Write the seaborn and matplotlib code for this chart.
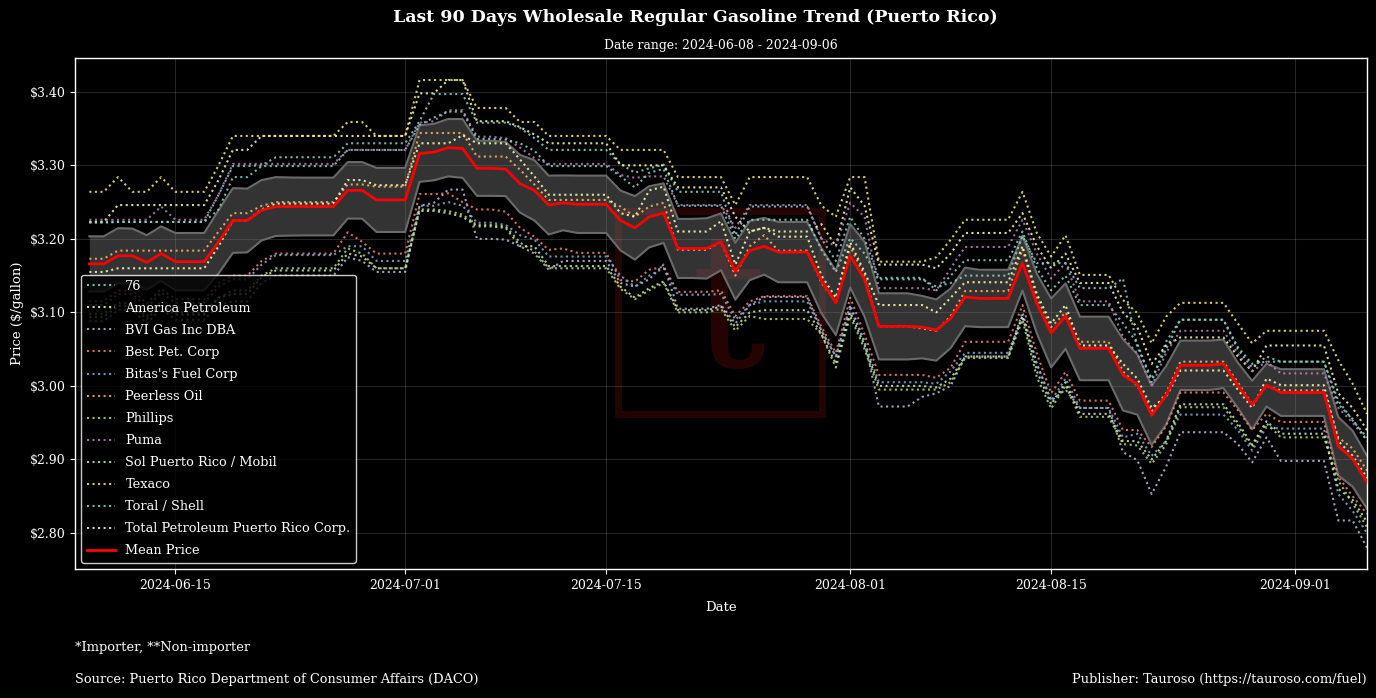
import numpy as np
import pandas as pd
import matplotlib
matplotlib.use("Agg")
import matplotlib.pyplot as plt
import matplotlib.dates as mdates
from matplotlib.ticker import FuncFormatter, MultipleLocator
from matplotlib.patches import Rectangle
import seaborn as sns

plt.style.use("dark_background")
plt.rcParams["font.family"] = ["DejaVu Serif"]

# ---------------- data ----------------
start_date = "2024-06-09"
end_date = "2024-09-06"
dates = pd.date_range(start_date, end_date, freq="D")

companies = [
    "76", "America Petroleum", "BVI Gas Inc DBA", "Best Pet. Corp",
    "Bitas's Fuel Corp", "Peerless Oil", "Phillips", "Puma",
    "Sol Puerto Rico / Mobil", "Texaco", "Toral / Shell",
    "Total Petroleum Puerto Rico Corp.",
]
colors = ["#8dd3c7", "#feffb3", "#bfbbd9", "#fa8174", "#81b1d2", "#fdb462",
          "#b3de69", "#bc82bd", "#ccebc4", "#ffed6f", "#8dd3c7", "#feffb3"]

p_76 = [
    3.223, 3.223, 3.223, 3.223, 3.223, 3.223, 3.223, 3.223, 3.223, 3.260,
    3.299, 3.299, 3.300, 3.311, 3.311, 3.311, 3.311, 3.311, 3.330, 3.330,
    3.330, 3.330, 3.330, 3.360, 3.397, 3.397, 3.397, 3.358, 3.358, 3.358,
    3.351, 3.337, 3.321, 3.321, 3.321, 3.321, 3.321, 3.302, 3.290, 3.296,
    3.301, 3.264, 3.264, 3.264, 3.264, 3.205, 3.244, 3.244, 3.244, 3.244,
    3.244, 3.200, 3.170, 3.230, 3.200, 3.147, 3.147, 3.147, 3.147, 3.130,
    3.150, 3.171, 3.171, 3.171, 3.171, 3.210, 3.160, 3.130, 3.150, 3.110,
    3.110, 3.110, 3.085, 3.058, 3.005, 3.060, 3.090, 3.090, 3.090, 3.090,
    3.053, 3.030, 3.033, 3.033, 3.033, 3.033, 3.033, 2.980, 2.953, 2.930,
]
p_america = [
    3.223, 3.223, 3.246, 3.246, 3.246, 3.246, 3.246, 3.246, 3.246, 3.280,
    3.321, 3.321, 3.340, 3.340, 3.340, 3.340, 3.340, 3.340, 3.340, 3.340,
    3.340, 3.340, 3.340, 3.398, 3.398, 3.416, 3.416, 3.360, 3.360, 3.360,
    3.352, 3.342, 3.330, 3.330, 3.330, 3.330, 3.330, 3.300, 3.300, 3.300,
    3.300, 3.270, 3.270, 3.270, 3.270, 3.230, 3.210, 3.215, 3.210, 3.210,
    3.210, 3.220, 3.190, 3.270, 3.245, 3.165, 3.165, 3.165, 3.165, 3.160,
    3.180, 3.208, 3.208, 3.208, 3.208, 3.235, 3.190, 3.160, 3.180, 3.140,
    3.140, 3.140, 3.100, 3.080, 3.030, 3.055, 3.066, 3.066, 3.066, 3.066,
    3.040, 3.020, 3.055, 3.055, 3.055, 3.055, 3.055, 2.990, 2.970, 2.940,
]
p_bvi = [
    3.088, 3.088, 3.103, 3.103, 3.085, 3.105, 3.090, 3.090, 3.090, 3.110,
    3.115, 3.115, 3.140, 3.150, 3.150, 3.150, 3.150, 3.150, 3.175, 3.170,
    3.155, 3.155, 3.155, 3.245, 3.249, 3.267, 3.267, 3.200, 3.200, 3.199,
    3.190, 3.180, 3.158, 3.170, 3.170, 3.170, 3.170, 3.140, 3.135, 3.145,
    3.165, 3.105, 3.105, 3.105, 3.110, 3.085, 3.110, 3.121, 3.121, 3.121,
    3.121, 3.075, 3.040, 3.110, 3.060, 2.972, 2.972, 2.972, 2.985, 2.990,
    3.000, 3.040, 3.040, 3.040, 3.040, 3.100, 3.030, 2.980, 2.995, 2.970,
    2.970, 2.970, 2.910, 2.899, 2.853, 2.890, 2.937, 2.937, 2.937, 2.937,
    2.921, 2.896, 2.930, 2.898, 2.898, 2.898, 2.898, 2.817, 2.817, 2.780,
]
p_best = [
    3.115, 3.115, 3.130, 3.130, 3.112, 3.132, 3.118, 3.118, 3.118, 3.140,
    3.150, 3.150, 3.170, 3.180, 3.180, 3.180, 3.180, 3.180, 3.209, 3.196,
    3.180, 3.180, 3.180, 3.261, 3.261, 3.262, 3.250, 3.240, 3.240, 3.237,
    3.215, 3.203, 3.185, 3.187, 3.181, 3.181, 3.181, 3.144, 3.142, 3.158,
    3.162, 3.128, 3.128, 3.128, 3.130, 3.095, 3.115, 3.122, 3.122, 3.122,
    3.122, 3.080, 3.045, 3.120, 3.070, 3.015, 3.015, 3.015, 3.015, 3.011,
    3.025, 3.060, 3.060, 3.060, 3.060, 3.110, 3.044, 2.990, 3.019, 2.980,
    2.980, 2.980, 2.940, 2.940, 2.917, 2.945, 2.991, 2.991, 2.991, 2.991,
    2.967, 2.940, 2.962, 2.951, 2.951, 2.951, 2.951, 2.876, 2.850, 2.826,
]
p_bitas = [
    3.110, 3.110, 3.125, 3.125, 3.107, 3.127, 3.113, 3.113, 3.113, 3.135,
    3.145, 3.145, 3.165, 3.178, 3.178, 3.178, 3.178, 3.178, 3.190, 3.190,
    3.170, 3.170, 3.170, 3.245, 3.245, 3.250, 3.245, 3.222, 3.222, 3.219,
    3.205, 3.199, 3.176, 3.176, 3.176, 3.176, 3.176, 3.150, 3.135, 3.150,
    3.160, 3.124, 3.124, 3.124, 3.125, 3.090, 3.110, 3.115, 3.115, 3.115,
    3.115, 3.075, 3.040, 3.105, 3.060, 3.005, 3.005, 3.005, 3.005, 3.003,
    3.020, 3.045, 3.045, 3.045, 3.045, 3.095, 3.030, 2.980, 3.010, 2.970,
    2.970, 2.970, 2.930, 2.935, 2.905, 2.925, 2.961, 2.961, 2.961, 2.961,
    2.940, 2.912, 2.944, 2.942, 2.942, 2.942, 2.942, 2.853, 2.830, 2.800,
]
p_peerless = [
    3.173, 3.173, 3.184, 3.184, 3.184, 3.184, 3.184, 3.184, 3.184, 3.210,
    3.235, 3.235, 3.245, 3.250, 3.250, 3.250, 3.250, 3.250, 3.274, 3.274,
    3.271, 3.271, 3.271, 3.344, 3.344, 3.344, 3.344, 3.312, 3.312, 3.312,
    3.294, 3.274, 3.253, 3.253, 3.253, 3.253, 3.253, 3.244, 3.230, 3.244,
    3.249, 3.185, 3.185, 3.185, 3.196, 3.150, 3.190, 3.205, 3.184, 3.184,
    3.184, 3.140, 3.115, 3.190, 3.150, 3.081, 3.081, 3.081, 3.078, 3.075,
    3.095, 3.129, 3.129, 3.129, 3.129, 3.186, 3.120, 3.080, 3.100, 3.060,
    3.060, 3.060, 3.020, 3.000, 2.965, 2.990, 3.033, 3.033, 3.033, 3.033,
    3.005, 2.975, 3.000, 2.994, 2.994, 2.994, 2.994, 2.930, 2.915, 2.885,
]
p_phillips = [
    3.098, 3.098, 3.113, 3.113, 3.095, 3.115, 3.100, 3.100, 3.100, 3.120,
    3.130, 3.130, 3.150, 3.160, 3.160, 3.160, 3.160, 3.160, 3.187, 3.180,
    3.160, 3.160, 3.160, 3.240, 3.240, 3.238, 3.233, 3.219, 3.219, 3.217,
    3.195, 3.183, 3.160, 3.160, 3.160, 3.160, 3.160, 3.132, 3.118, 3.130,
    3.140, 3.100, 3.100, 3.100, 3.105, 3.075, 3.095, 3.091, 3.091, 3.091,
    3.091, 3.070, 3.025, 3.095, 3.050, 2.995, 2.995, 2.995, 2.995, 2.995,
    3.005, 3.038, 3.038, 3.038, 3.038, 3.090, 3.012, 2.969, 3.001, 2.958,
    2.958, 2.958, 2.921, 2.919, 2.894, 2.920, 2.971, 2.971, 2.971, 2.971,
    2.946, 2.917, 2.949, 2.930, 2.930, 2.930, 2.930, 2.871, 2.840, 2.808,
]
p_puma = [
    3.226, 3.226, 3.226, 3.226, 3.226, 3.244, 3.226, 3.226, 3.226, 3.260,
    3.302, 3.302, 3.302, 3.302, 3.302, 3.302, 3.302, 3.302, 3.321, 3.321,
    3.321, 3.321, 3.321, 3.358, 3.360, 3.375, 3.375, 3.339, 3.339, 3.337,
    3.324, 3.310, 3.302, 3.302, 3.302, 3.302, 3.302, 3.287, 3.283, 3.285,
    3.285, 3.246, 3.246, 3.246, 3.246, 3.215, 3.246, 3.246, 3.246, 3.246,
    3.246, 3.200, 3.190, 3.249, 3.230, 3.133, 3.133, 3.133, 3.133, 3.130,
    3.160, 3.189, 3.189, 3.189, 3.189, 3.226, 3.180, 3.146, 3.167, 3.115,
    3.115, 3.115, 3.067, 3.044, 3.000, 3.045, 3.075, 3.075, 3.075, 3.075,
    3.044, 3.020, 3.033, 3.017, 3.017, 3.017, 3.017, 2.970, 2.950, 2.926,
]
p_sol = [
    3.094, 3.094, 3.109, 3.109, 3.091, 3.111, 3.097, 3.097, 3.097, 3.120,
    3.125, 3.125, 3.148, 3.157, 3.157, 3.157, 3.157, 3.157, 3.180, 3.176,
    3.160, 3.160, 3.160, 3.238, 3.238, 3.235, 3.230, 3.217, 3.217, 3.215,
    3.190, 3.190, 3.163, 3.163, 3.163, 3.163, 3.163, 3.135, 3.120, 3.133,
    3.142, 3.103, 3.103, 3.103, 3.108, 3.080, 3.100, 3.103, 3.103, 3.103,
    3.103, 3.070, 3.030, 3.100, 3.055, 3.000, 3.000, 3.000, 3.000, 2.998,
    3.010, 3.040, 3.040, 3.040, 3.040, 3.095, 3.020, 2.975, 3.005, 2.962,
    2.962, 2.962, 2.925, 2.925, 2.900, 2.925, 2.975, 2.975, 2.975, 2.975,
    2.950, 2.920, 2.952, 2.935, 2.935, 2.935, 2.935, 2.860, 2.845, 2.815,
]
p_texaco = [
    3.264, 3.264, 3.284, 3.264, 3.264, 3.284, 3.264, 3.264, 3.264, 3.300,
    3.340, 3.340, 3.340, 3.340, 3.340, 3.340, 3.340, 3.340, 3.359, 3.359,
    3.340, 3.340, 3.340, 3.416, 3.416, 3.416, 3.416, 3.378, 3.378, 3.378,
    3.359, 3.359, 3.340, 3.340, 3.340, 3.340, 3.340, 3.321, 3.321, 3.321,
    3.321, 3.284, 3.284, 3.284, 3.284, 3.246, 3.284, 3.284, 3.284, 3.284,
    3.284, 3.245, 3.230, 3.284, 3.284, 3.169, 3.169, 3.169, 3.169, 3.175,
    3.199, 3.226, 3.226, 3.226, 3.226, 3.264, 3.208, 3.176, 3.205, 3.151,
    3.151, 3.151, 3.117, 3.099, 3.058, 3.094, 3.113, 3.113, 3.113, 3.113,
    3.085, 3.058, 3.075, 3.075, 3.075, 3.075, 3.075, 3.035, 3.003, 2.962,
]
p_toral = [
    3.222, 3.222, 3.223, 3.223, 3.223, 3.223, 3.223, 3.223, 3.223, 3.240,
    3.284, 3.284, 3.299, 3.299, 3.299, 3.299, 3.299, 3.299, 3.321, 3.321,
    3.321, 3.321, 3.321, 3.355, 3.365, 3.373, 3.373, 3.336, 3.336, 3.335,
    3.330, 3.320, 3.299, 3.299, 3.299, 3.299, 3.299, 3.285, 3.270, 3.290,
    3.295, 3.245, 3.245, 3.245, 3.245, 3.200, 3.226, 3.226, 3.226, 3.226,
    3.226, 3.185, 3.155, 3.201, 3.180, 3.145, 3.145, 3.145, 3.145, 3.135,
    3.140, 3.150, 3.150, 3.150, 3.150, 3.204, 3.167, 3.167, 3.167, 3.133,
    3.133, 3.133, 3.146, 3.053, 3.010, 3.050, 3.090, 3.090, 3.090, 3.090,
    3.050, 3.025, 3.040, 3.033, 3.033, 3.033, 3.033, 2.975, 2.955, 2.925,
]
p_total = [
    3.155, 3.155, 3.160, 3.160, 3.160, 3.160, 3.160, 3.160, 3.160, 3.190,
    3.225, 3.225, 3.240, 3.248, 3.248, 3.248, 3.248, 3.248, 3.280, 3.280,
    3.273, 3.273, 3.273, 3.330, 3.330, 3.330, 3.341, 3.330, 3.330, 3.330,
    3.308, 3.285, 3.260, 3.260, 3.260, 3.260, 3.260, 3.235, 3.230, 3.266,
    3.271, 3.210, 3.210, 3.210, 3.224, 3.165, 3.210, 3.215, 3.203, 3.203,
    3.203, 3.150, 3.120, 3.195, 3.155, 3.110, 3.110, 3.110, 3.110, 3.100,
    3.120, 3.141, 3.141, 3.141, 3.141, 3.190, 3.125, 3.085, 3.110, 3.055,
    3.055, 3.055, 3.030, 3.010, 2.970, 2.985, 3.021, 3.021, 3.021, 3.021,
    2.995, 2.970, 3.010, 3.001, 3.001, 3.001, 3.001, 2.925, 2.905, 2.875,
]

mean_price = [
    3.166, 3.166, 3.177, 3.177, 3.168, 3.180, 3.169, 3.169, 3.169, 3.196,
    3.225, 3.225, 3.239, 3.244, 3.244, 3.244, 3.244, 3.244, 3.266, 3.266,
    3.253, 3.253, 3.253, 3.316, 3.318, 3.324, 3.323, 3.296, 3.296, 3.295,
    3.275, 3.266, 3.246, 3.249, 3.247, 3.247, 3.247, 3.225, 3.215, 3.230,
    3.235, 3.187, 3.187, 3.187, 3.196, 3.156, 3.184, 3.190, 3.182, 3.182,
    3.182, 3.143, 3.113, 3.177, 3.145, 3.081, 3.081, 3.081, 3.080, 3.076,
    3.092, 3.121, 3.119, 3.119, 3.119, 3.167, 3.112, 3.072, 3.095, 3.051,
    3.051, 3.051, 3.015, 3.002, 2.960, 2.987, 3.028, 3.028, 3.028, 3.030,
    3.001, 2.974, 3.001, 2.991, 2.991, 2.991, 2.991, 2.918, 2.901, 2.869,
]
std_price = [
    0.0375, 0.0375, 0.0375, 0.0370, 0.0370, 0.0370, 0.0390, 0.0390, 0.0390, 0.0430,
    0.0440, 0.0434, 0.0410, 0.0400, 0.0395, 0.0393, 0.0393, 0.0393, 0.0384, 0.0385,
    0.0436, 0.0436, 0.0436, 0.0384, 0.0384, 0.0390, 0.0400, 0.0375, 0.0375, 0.0368,
    0.0393, 0.0410, 0.0400, 0.0373, 0.0390, 0.0390, 0.0390, 0.0407, 0.0432, 0.0416,
    0.0405, 0.0402, 0.0402, 0.0410, 0.0386, 0.0386, 0.0402, 0.0386, 0.0410, 0.0410,
    0.0410, 0.0443, 0.0439, 0.0432, 0.0510, 0.0450, 0.0450, 0.0450, 0.0425, 0.0416,
    0.0405, 0.0398, 0.0390, 0.0390, 0.0390, 0.0373, 0.0405, 0.0468, 0.0445, 0.0432,
    0.0432, 0.0432, 0.0484, 0.0410, 0.0402, 0.0398, 0.0336, 0.0336, 0.0336, 0.0330,
    0.0307, 0.0330, 0.0290, 0.0318, 0.0318, 0.0318, 0.0318, 0.0398, 0.0380, 0.0360,
]

series = [p_76, p_america, p_bvi, p_best, p_bitas, p_peerless, p_phillips,
          p_puma, p_sol, p_texaco, p_toral, p_total]

title = "Last 90 Days Wholesale Regular Gasoline Trend (Puerto Rico)"
subtitle = "Date range: 2024-06-08 - 2024-09-06"
note = "*Importer, **Non-importer"
source = "Source: Puerto Rico Department of Consumer Affairs (DACO)"
publisher = "Publisher: Tauroso (https://tauroso.com/fuel)"

# ---------------- figure ----------------
W, H = 1376, 698
fig = plt.figure(figsize=(W / 100, H / 100), dpi=100)
fig.patch.set_facecolor("black")
ax = fig.add_axes([75 / W, 1 - 569 / H, (1367 - 75) / W, (569 - 58) / H])
ax.set_facecolor("black")

# faint watermark logo
ax.add_patch(Rectangle(((618 - 75) / 1292, (569 - 414) / 511),
                       (822 - 618) / 1292, (414 - 211) / 511,
                       transform=ax.transAxes, fill=False,
                       edgecolor="#240303", linewidth=5, zorder=0.4))
ax.text((728 - 75) / 1292, (569 - 366) / 511, "t", transform=ax.transAxes,
        ha="center", va="baseline", fontsize=135,
        color="#240303", zorder=0.4)

mean_arr = np.array(mean_price)
std_arr = np.array(std_price)
ax.fill_between(dates, mean_arr - std_arr, mean_arr + std_arr,
                color="#808080", alpha=0.4, linewidth=0, zorder=1)
ax.plot(dates, mean_arr + std_arr, color="#6a6a6a", linewidth=1.5, zorder=1.1)
ax.plot(dates, mean_arr - std_arr, color="#6a6a6a", linewidth=1.5, zorder=1.1)

for name, col, vals in zip(companies, colors, series):
    sns.lineplot(x=dates, y=vals, ax=ax, color=col, linestyle=":",
                 linewidth=1.5, alpha=0.85, label=name, zorder=2)

sns.lineplot(x=dates, y=mean_price, ax=ax, color="red", linewidth=2,
             label="Mean Price", zorder=3)

ax.set_xlim(pd.Timestamp("2024-06-08"), pd.Timestamp("2024-09-06"))
ax.set_ylim(2.751, 3.446)
ax.yaxis.set_major_locator(MultipleLocator(0.10))
ax.yaxis.set_major_formatter(FuncFormatter(lambda v, p: f"${v:.2f}"))
ax.xaxis.set_major_locator(mdates.DayLocator(bymonthday=[1, 15]))
ax.xaxis.set_major_formatter(mdates.DateFormatter("%Y-%m-%d"))
ax.tick_params(axis="both", labelsize=9, colors="white", length=3.5)
ax.grid(True, color="white", alpha=0.15, linewidth=0.8)
ax.set_axisbelow(True)
for sp in ax.spines.values():
    sp.set_color("white")
    sp.set_linewidth(1.0)

ax.set_xlabel("Date", fontsize=9.5)
ax.set_ylabel("Price ($/gallon)", fontsize=9.5)
ax.xaxis.set_label_coords(0.5, (569 - 601) / 511)
ax.yaxis.set_label_coords((24 - 75) / 1292, 0.5)

leg = ax.legend(loc="lower left", fontsize=9.3, framealpha=0.8,
                labelspacing=0.70, handlelength=2.2, borderaxespad=0.5,
                facecolor="black", edgecolor="white")

fig.text(695 / W, 1 - 18 / H, title, ha="center", va="center",
         fontsize=12.5, fontweight="bold", color="white")
fig.text(721 / W, 1 - 45 / H, subtitle, ha="center", va="center",
         fontsize=8.9, color="white")
fig.text(75 / W, 1 - 648 / H, note, ha="left", va="center",
         fontsize=9.4, color="white")
fig.text(75 / W, 1 - 679 / H, source, ha="left", va="center",
         fontsize=9.3, color="white")
fig.text(1367 / W, 1 - 679 / H, publisher, ha="right", va="center",
         fontsize=9.35, color="white")

fig.savefig("out.png", dpi=100, facecolor="black")
